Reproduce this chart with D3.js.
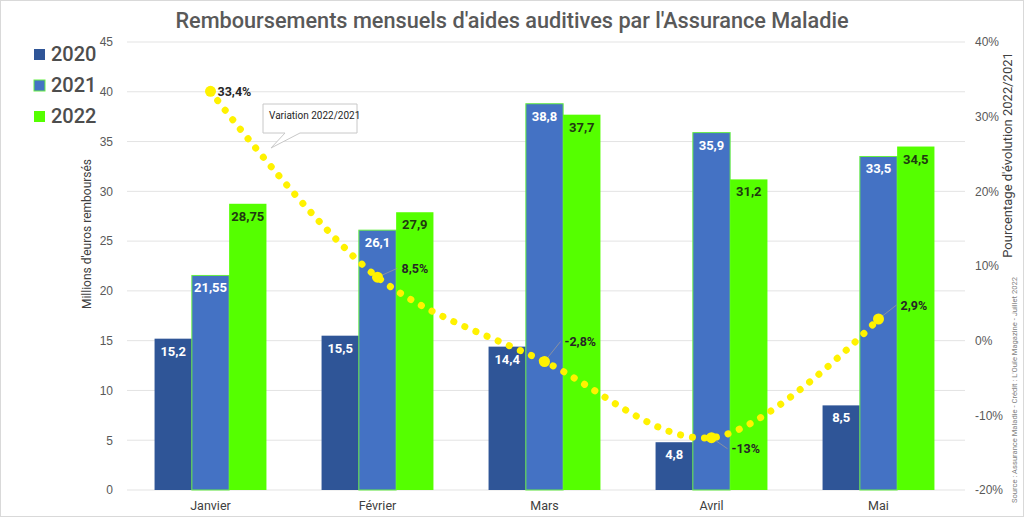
<!DOCTYPE html>
<html>
<head>
<meta charset="utf-8">
<script src="https://cdn.jsdelivr.net/npm/d3@7"></script>
<style>
  body { margin: 0; background: #fff; }
  svg { font-family: Roboto, "Noto Sans", sans-serif; }
</style>
</head>
<body>
<script>
var months = ["Janvier", "Février", "Mars", "Avril", "Mai"];
var years = ["2020", "2021", "2022"];
var v2020 = [15.2, 15.5, 14.4, 4.8, 8.5];
var v2021 = [21.55, 26.1, 38.8, 35.9, 33.5];
var v2022 = [28.75, 27.9, 37.7, 31.2, 34.5];
var variation = [33.4, 8.5, -2.8, -13, 2.9];
var leftTicks = [0, 5, 10, 15, 20, 25, 30, 35, 40, 45];
var rightTicks = [-20, -10, 0, 10, 20, 30, 40];

// label offsets for the % labels (layout only)
var pctOffsets = [[7, 0], [24, -9], [20, -20], [20, 11], [22, -14]];

var W = 1024, H = 517;
var colors = {"2020": "#2f5597", "2021": "#4472c4", "2022": "#55ff00"};
var series = {"2020": v2020, "2021": v2021, "2022": v2022};

var svg = d3.select("body").append("svg").attr("width", W).attr("height", H);

svg.append("rect").attr("x", 0.5).attr("y", 0.5).attr("width", W - 1).attr("height", H - 1)
  .attr("fill", "#fff").attr("stroke", "#d9d9d9");

var x = d3.scaleBand().domain(months).range([127, 962]).paddingInner(0.33).paddingOuter(0.165);
var xs = d3.scaleBand().domain(years).range([0, x.bandwidth()]);
var y = d3.scaleLinear().domain([0, 45]).range([490, 42]);
var y2 = d3.scaleLinear().domain([-20, 40]).range([490, 42]);

// grid
svg.append("g").selectAll("line").data(leftTicks).join("line")
  .attr("x1", 127).attr("x2", 965)
  .attr("y1", d => y(d)).attr("y2", d => y(d))
  .attr("stroke", "#e3e3e3").attr("stroke-width", 1);

// left axis
var ya = svg.append("g").attr("transform", "translate(120,0)")
  .call(d3.axisLeft(y).tickValues(leftTicks).tickSize(0).tickPadding(7));
ya.select(".domain").remove();
ya.selectAll("text").attr("fill", "#595959").style("font-size", "12px");

// right axis
var y2a = svg.append("g").attr("transform", "translate(968,0)")
  .call(d3.axisRight(y2).tickValues(rightTicks).tickSize(0).tickPadding(7)
    .tickFormat(d => d + "%"));
y2a.select(".domain").remove();
y2a.selectAll("text").attr("fill", "#595959").style("font-size", "12px");

// x axis labels
svg.append("g").selectAll("text").data(months).join("text")
  .attr("x", d => x(d) + x.bandwidth() / 2).attr("y", 510)
  .attr("text-anchor", "middle").attr("fill", "#404040").style("font-size", "12.5px")
  .text(d => d);

// bars
years.forEach(function(yr) {
  var g = svg.append("g");
  g.selectAll("rect").data(series[yr]).join("rect")
    .attr("x", (d, i) => x(months[i]) + xs(yr))
    .attr("y", d => y(d))
    .attr("width", xs.bandwidth())
    .attr("height", d => y(0) - y(d))
    .attr("fill", colors[yr])
    .attr("stroke", yr == "2021" ? "#66ee44" : "none")
    .attr("stroke-width", 1);
  g.selectAll("text").data(series[yr]).join("text")
    .attr("x", (d, i) => x(months[i]) + xs(yr) + xs.bandwidth() / 2)
    .attr("y", d => y(d) + 17)
    .attr("text-anchor", "middle")
    .attr("fill", yr == "2022" ? "#1f3a10" : "#fff")
    .style("font-size", "13px").style("font-weight", "bold")
    .text(d => String(d).replace(".", ","));
});

// variation line
var pts = variation.map((d, i) => [x(months[i]) + x.bandwidth() / 2, y2(d)]);
var line = d3.line().curve(d3.curveCatmullRom.alpha(0.5));
svg.append("path").attr("d", line(pts))
  .attr("fill", "none").attr("stroke", "#fff200").attr("stroke-width", 7)
  .attr("stroke-linecap", "round").attr("stroke-dasharray", "0.1 12");

// leader lines and markers
svg.append("g").selectAll("line").data(pts).join("line")
  .filter((d, i) => i > 0)
  .attr("x1", d => d[0]).attr("y1", d => d[1])
  .attr("x2", (d, i) => d[0] + pctOffsets[i + 1][0] - 4)
  .attr("y2", (d, i) => d[1] + pctOffsets[i + 1][1])
  .attr("stroke", "#999").attr("stroke-width", 0.8);

svg.append("g").selectAll("circle").data(pts).join("circle")
  .attr("cx", d => d[0]).attr("cy", d => d[1]).attr("r", 5.5)
  .attr("fill", "#fff200");

svg.append("g").selectAll("text").data(variation).join("text")
  .attr("x", (d, i) => pts[i][0] + pctOffsets[i][0])
  .attr("y", (d, i) => pts[i][1] + pctOffsets[i][1] + 4.5)
  .attr("fill", "#262626").style("font-size", "12.5px").style("font-weight", "bold")
  .text(d => String(d).replace(".", ",") + "%");

// callout
var cg = svg.append("g");
cg.append("path")
  .attr("d", "M263,104 H357 V133 H300 L271,148 L285,133 H263 Z")
  .attr("fill", "#fff").attr("stroke", "#c8c8c8").attr("stroke-width", 1);
cg.append("text").attr("x", 269).attr("y", 119).attr("fill", "#262626")
  .style("font-size", "10px").text("Variation 2022/2021");

// title
svg.append("text").attr("x", 512).attr("y", 28).attr("text-anchor", "middle")
  .attr("fill", "#595959").style("font-size", "21.7px").style("font-weight", "500")
  .text("Remboursements mensuels d'aides auditives par l'Assurance Maladie");

// legend
var lg = svg.append("g").selectAll("g").data(years).join("g")
  .attr("transform", (d, i) => "translate(34," + (49 + i * 31) + ")");
lg.append("rect").attr("width", 11).attr("height", 11)
  .attr("fill", d => colors[d])
  .attr("stroke", d => d == "2021" ? "#66ee44" : "none");
lg.append("text").attr("x", 17).attr("y", 12).attr("fill", "#4d4d4d")
  .style("font-size", "20px").style("font-weight", "500").text(d => d);

// axis titles
svg.append("text").attr("transform", "translate(91,234) rotate(-90)")
  .attr("text-anchor", "middle").attr("fill", "#404040").style("font-size", "12px")
  .text("Millions d'euros remboursés");
svg.append("text").attr("transform", "translate(1012,155) rotate(-90)")
  .attr("text-anchor", "middle").attr("fill", "#404040").style("font-size", "13px")
  .text("Pourcentage d'évolution 2022/2021");
svg.append("text").attr("transform", "translate(1017,390) rotate(-90)")
  .attr("text-anchor", "middle").attr("fill", "#7f7f7f").style("font-size", "7.6px")
  .text("Source : Assurance Maladie - Crédit : L'Ouïe Magazine - Juillet 2022");
</script>
</body>
</html>
